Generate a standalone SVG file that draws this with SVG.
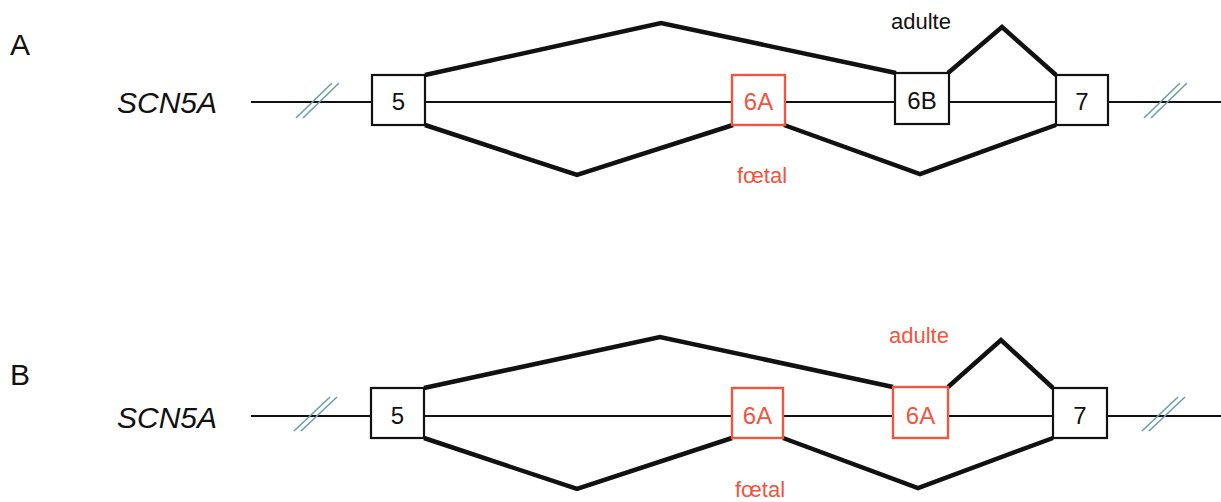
<svg xmlns="http://www.w3.org/2000/svg" width="1221" height="502" viewBox="0 0 1221 502">
<style>
.bg{fill:#ffffff}
.axis{stroke:#111;stroke-width:2;fill:none}
.thick{stroke:#111;stroke-width:4.5;fill:none;stroke-linejoin:miter}
.brk{stroke:#6f9ea6;stroke-width:1.6;fill:none}
.box{fill:#fff;stroke:#111;stroke-width:2.2}
.rbox{fill:#fff;stroke:#ef553f;stroke-width:2.4}
.lbl{font-family:"Liberation Sans",Arial,sans-serif;font-size:24px;fill:#111;text-anchor:middle}
.rlbl{font-family:"Liberation Sans",Arial,sans-serif;font-size:24px;fill:#ef553f;text-anchor:middle}
.gene{font-family:"Liberation Sans",Arial,sans-serif;font-size:30px;font-style:italic;fill:#111}
.panel{font-family:"Liberation Sans",Arial,sans-serif;font-size:30px;fill:#111}
.note{font-family:"Liberation Sans",Arial,sans-serif;font-size:22px;fill:#111;text-anchor:middle}
.rnote{font-family:"Liberation Sans",Arial,sans-serif;font-size:22px;fill:#ef553f;text-anchor:middle}
</style>
<rect class="bg" x="0" y="0" width="1221" height="502"/>

<!-- Panel A -->
<text class="panel" x="10" y="55">A</text>
<text class="gene" x="117" y="113">SCN5A</text>
<g id="connectors-A">
  <line class="axis" x1="251" y1="102" x2="1221" y2="102"/>
  <path class="brk" d="M296,118 L332,83 M303,118 L339,83"/>
  <path class="brk" d="M1144,118 L1180,83 M1151,118 L1187,83"/>
  <polyline class="thick" points="425,75 661,23 896,73"/>
  <polyline class="thick" points="425,125 577,175 733,125"/>
  <polyline class="thick" points="948,73 1002,27 1056,75"/>
  <polyline class="thick" points="784,125 920,174 1056,125"/>
</g>
<g id="A-exon5">
  <rect class="box" x="372" y="75" width="53" height="50"/>
  <text class="lbl" x="398.5" y="110">5</text>
</g>
<g id="A-exon6A">
  <rect class="rbox" x="732" y="75" width="53" height="50"/>
  <text class="rlbl" x="758.5" y="110">6A</text>
</g>
<g id="A-exon6B">
  <rect class="box" x="895" y="73" width="54" height="51"/>
  <text class="lbl" x="922" y="109">6B</text>
</g>
<g id="A-exon7">
  <rect class="box" x="1056" y="75" width="52" height="50"/>
  <text class="lbl" x="1082" y="110">7</text>
</g>
<text class="note" x="921" y="29">adulte</text>
<text class="rnote" x="762" y="183">fœtal</text>

<!-- Panel B -->
<text class="panel" x="10" y="385">B</text>
<text class="gene" x="117" y="428">SCN5A</text>
<g id="connectors-B">
  <line class="axis" x1="251" y1="416" x2="1221" y2="416"/>
  <path class="brk" d="M294,431 L330,397 M301,431 L337,397"/>
  <path class="brk" d="M1142,431 L1178,397 M1149,431 L1185,397"/>
  <polyline class="thick" points="424,388 660,337 893,387"/>
  <polyline class="thick" points="424,438 577,489 732,438"/>
  <polyline class="thick" points="948,387 1001,340 1053,388"/>
  <polyline class="thick" points="783,438 918,488 1053,438"/>
</g>
<g id="B-exon5">
  <rect class="box" x="371" y="388" width="53" height="50"/>
  <text class="lbl" x="397.5" y="424">5</text>
</g>
<g id="B-exon6A-1">
  <rect class="rbox" x="732" y="388" width="51" height="50"/>
  <text class="rlbl" x="757.5" y="424">6A</text>
</g>
<g id="B-exon6A-2">
  <rect class="rbox" x="893" y="387" width="55" height="51"/>
  <text class="rlbl" x="920.5" y="424">6A</text>
</g>
<g id="B-exon7">
  <rect class="box" x="1053" y="388" width="54" height="50"/>
  <text class="lbl" x="1080" y="424">7</text>
</g>
<text class="rnote" x="919" y="343">adulte</text>
<text class="rnote" x="760" y="497">fœtal</text>
</svg>
